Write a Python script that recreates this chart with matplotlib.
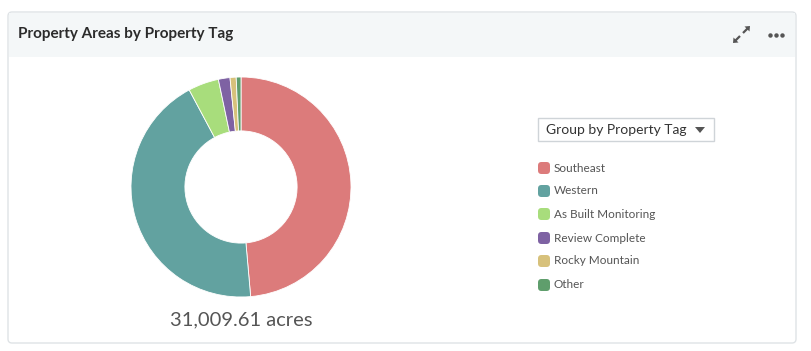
import numpy as np
import matplotlib
matplotlib.use("Agg")
import matplotlib.pyplot as plt
from matplotlib.patches import FancyBboxPatch, Rectangle, Polygon

plt.rcParams['font.family'] = ['Lato', 'DejaVu Sans']

tags = ["Southeast", "Western", "As Built Monitoring", "Review Complete",
        "Rocky Mountain", "Other"]
acres = [15071.20, 13520.10, 1395.40, 527.30, 279.20, 216.41]
colors = ["#dc7b7b", "#62a2a0", "#a8dd7c", "#7e62a3", "#d7c17b", "#5f9e6c"]
title = "Property Areas by Property Tag"
group_label = "Group by Property Tag"

W, H = 812, 351
fig = plt.figure(figsize=(W / 100, H / 100), dpi=100)

# background canvas in pixel coords (y down)
bg = fig.add_axes([0, 0, 1, 1])
bg.set_xlim(0, W)
bg.set_ylim(H, 0)
bg.axis("off")

# card
bg.add_patch(FancyBboxPatch((8, 12), 788, 331, boxstyle="round,pad=0,rounding_size=4",
                            fc="white", ec="#dfe3e6", lw=1))
bg.add_patch(Rectangle((9, 13), 786, 44, fc="#f4f7f8", ec="none"))
bg.text(18, 34, title, fontsize=11, fontweight="bold", color="#2b2b2b",
        va="center", ha="left")

# expand icon (two diagonal arrows)
bg.plot([743, 748], [33, 28], color="#555", lw=1.6, solid_capstyle="butt")
bg.add_patch(Polygon([[750, 26], [744.5, 26.5], [749.5, 31.5]], fc="#555", ec="none"))
bg.plot([740, 735], [36, 41], color="#555", lw=1.6, solid_capstyle="butt")
bg.add_patch(Polygon([[733, 43], [738.5, 42.5], [733.5, 37.5]], fc="#555", ec="none"))
# dots icon
for dx in (770, 776, 782):
    bg.plot(dx, 35, "o", ms=3.2, color="#555", mec="none")

# total
total = sum(acres)
bg.text(241, 320, f"{total:,.2f} acres", fontsize=14.5, color="#555555",
        ha="center", va="center")

# dropdown
bg.add_patch(Rectangle((538, 118), 176, 23, fc="white", ec="#cfd4d8", lw=1))
bg.text(546, 130, group_label, fontsize=10, color="#333", ha="left", va="center")
bg.add_patch(Polygon([[695, 127], [705, 127], [700, 133]], closed=True,
                     fc="#555", ec="none"))

# legend
ys = [168, 191, 214, 238, 261, 285]
for name, c, y in zip(tags, colors, ys):
    bg.add_patch(FancyBboxPatch((538, y - 6), 12, 12,
                                boxstyle="round,pad=0,rounding_size=3.5",
                                fc=c, ec="none"))
    bg.text(554, y, name, fontsize=8.5, color="#555555", ha="left", va="center")

# donut
ax = fig.add_axes([131 / W, (H - 297) / H, 220 / W, 220 / H])
ax.pie(acres, colors=colors, startangle=90, counterclock=False,
       wedgeprops=dict(width=0.49, edgecolor="white", linewidth=0.6))
ax.set_xlim(-1.0, 1.0)
ax.set_ylim(-1.0, 1.0)
ax.set_aspect("equal")

fig.savefig("out.png", dpi=100)
